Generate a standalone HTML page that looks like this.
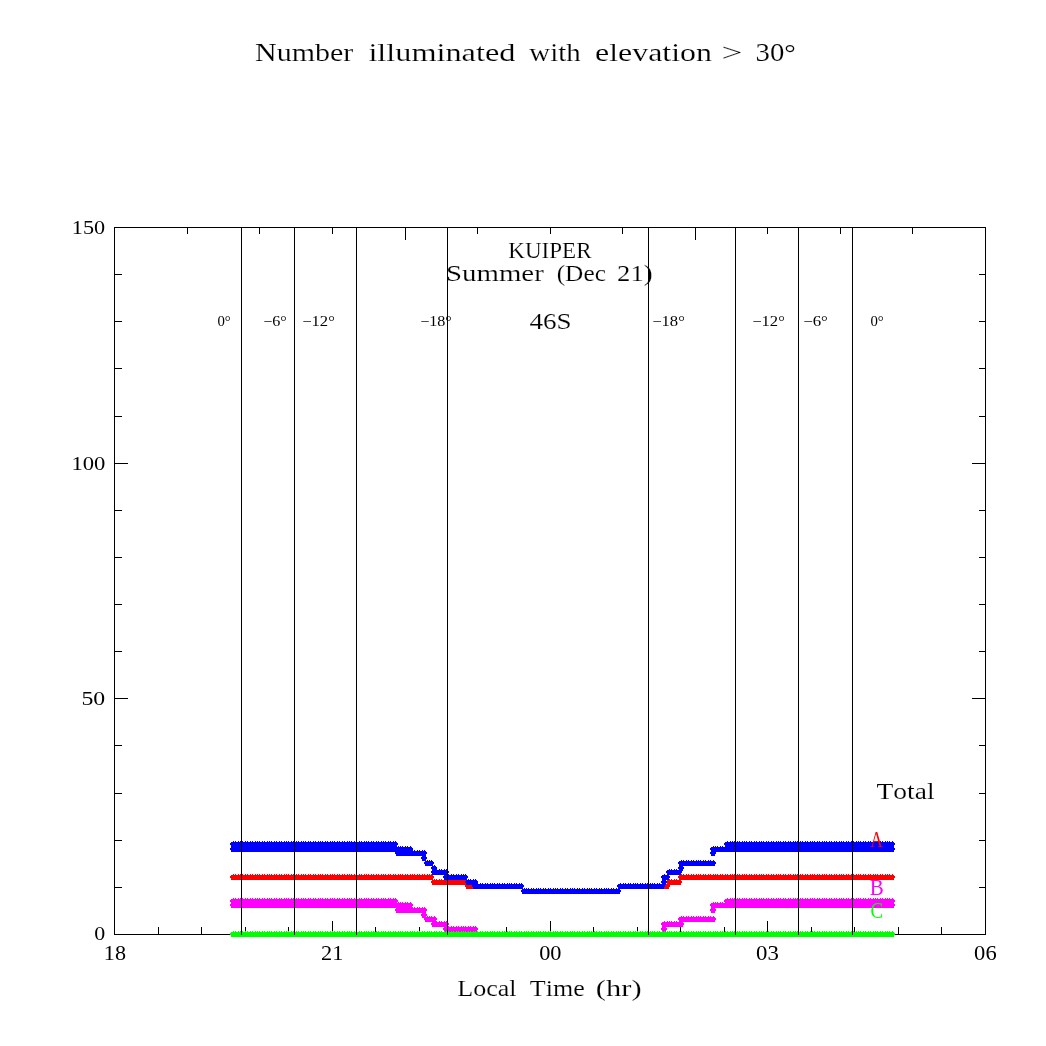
<!DOCTYPE html>
<html><head><meta charset="utf-8"><title>Number illuminated with elevation &gt; 30°</title>
<style>html,body{margin:0;padding:0;background:#fff;overflow:hidden}svg{display:block}</style>
</head><body>
<svg width="1046" height="1046" viewBox="0 0 1046 1046">
<rect width="1046" height="1046" fill="#fff"/>
<g fill="#000" shape-rendering="crispEdges"><rect x="114" y="227" width="872" height="1"/><rect x="114" y="934" width="872" height="1"/><rect x="114" y="227" width="1" height="708"/><rect x="985" y="227" width="1" height="708"/><rect x="158" y="927" width="1" height="7"/><rect x="201" y="927" width="1" height="7"/><rect x="245" y="927" width="1" height="7"/><rect x="288" y="927" width="1" height="7"/><rect x="332" y="921" width="1" height="13"/><rect x="375" y="927" width="1" height="7"/><rect x="419" y="927" width="1" height="7"/><rect x="462" y="927" width="1" height="7"/><rect x="506" y="927" width="1" height="7"/><rect x="550" y="921" width="1" height="13"/><rect x="593" y="927" width="1" height="7"/><rect x="637" y="927" width="1" height="7"/><rect x="680" y="927" width="1" height="7"/><rect x="724" y="927" width="1" height="7"/><rect x="767" y="921" width="1" height="13"/><rect x="811" y="927" width="1" height="7"/><rect x="854" y="927" width="1" height="7"/><rect x="898" y="927" width="1" height="7"/><rect x="941" y="927" width="1" height="7"/><rect x="187" y="228" width="1" height="6"/><rect x="259" y="228" width="1" height="6"/><rect x="332" y="228" width="1" height="6"/><rect x="405" y="228" width="1" height="12"/><rect x="477" y="228" width="1" height="6"/><rect x="550" y="228" width="1" height="6"/><rect x="622" y="228" width="1" height="6"/><rect x="695" y="228" width="1" height="12"/><rect x="767" y="228" width="1" height="6"/><rect x="840" y="228" width="1" height="6"/><rect x="912" y="228" width="1" height="6"/><rect x="115" y="887" width="7" height="1"/><rect x="979" y="887" width="6" height="1"/><rect x="115" y="840" width="7" height="1"/><rect x="979" y="840" width="6" height="1"/><rect x="115" y="793" width="7" height="1"/><rect x="979" y="793" width="6" height="1"/><rect x="115" y="745" width="7" height="1"/><rect x="979" y="745" width="6" height="1"/><rect x="115" y="698" width="13" height="1"/><rect x="972" y="698" width="13" height="1"/><rect x="115" y="651" width="7" height="1"/><rect x="979" y="651" width="6" height="1"/><rect x="115" y="604" width="7" height="1"/><rect x="979" y="604" width="6" height="1"/><rect x="115" y="557" width="7" height="1"/><rect x="979" y="557" width="6" height="1"/><rect x="115" y="510" width="7" height="1"/><rect x="979" y="510" width="6" height="1"/><rect x="115" y="463" width="13" height="1"/><rect x="972" y="463" width="13" height="1"/><rect x="115" y="416" width="7" height="1"/><rect x="979" y="416" width="6" height="1"/><rect x="115" y="368" width="7" height="1"/><rect x="979" y="368" width="6" height="1"/><rect x="115" y="321" width="7" height="1"/><rect x="979" y="321" width="6" height="1"/><rect x="115" y="274" width="7" height="1"/><rect x="979" y="274" width="6" height="1"/></g>
<g shape-rendering="crispEdges"><path fill="#f00" d="M233 874h1v1h-1zM235 874h1v1h-1zM238 874h1v1h-1zM240 874h1v1h-1zM242 874h1v1h-1zM245 874h1v1h-1zM247 874h1v1h-1zM250 874h1v1h-1zM252 874h1v1h-1zM255 874h1v1h-1zM257 874h1v1h-1zM259 874h1v1h-1zM262 874h1v1h-1zM264 874h1v1h-1zM267 874h1v1h-1zM269 874h1v1h-1zM271 874h1v1h-1zM274 874h1v1h-1zM276 874h1v1h-1zM279 874h1v1h-1zM281 874h1v1h-1zM284 874h1v1h-1zM286 874h1v1h-1zM288 874h1v1h-1zM291 874h1v1h-1zM293 874h1v1h-1zM296 874h1v1h-1zM298 874h1v1h-1zM301 874h1v1h-1zM303 874h1v1h-1zM305 874h1v1h-1zM308 874h1v1h-1zM310 874h1v1h-1zM313 874h1v1h-1zM315 874h1v1h-1zM318 874h1v1h-1zM320 874h1v1h-1zM322 874h1v1h-1zM325 874h1v1h-1zM327 874h1v1h-1zM330 874h1v1h-1zM332 874h1v1h-1zM334 874h1v1h-1zM337 874h1v1h-1zM339 874h1v1h-1zM342 874h1v1h-1zM344 874h1v1h-1zM347 874h1v1h-1zM349 874h1v1h-1zM351 874h1v1h-1zM354 874h1v1h-1zM356 874h1v1h-1zM359 874h1v1h-1zM361 874h1v1h-1zM364 874h1v1h-1zM366 874h1v1h-1zM368 874h1v1h-1zM371 874h1v1h-1zM373 874h1v1h-1zM376 874h1v1h-1zM378 874h1v1h-1zM381 874h1v1h-1zM383 874h1v1h-1zM385 874h1v1h-1zM388 874h1v1h-1zM390 874h1v1h-1zM393 874h1v1h-1zM395 874h1v1h-1zM398 874h1v1h-1zM400 874h1v1h-1zM402 874h1v1h-1zM405 874h1v1h-1zM407 874h1v1h-1zM410 874h1v1h-1zM412 874h1v1h-1zM414 874h1v1h-1zM417 874h1v1h-1zM419 874h1v1h-1zM422 874h1v1h-1zM424 874h1v1h-1zM427 874h1v1h-1zM429 874h1v1h-1zM431 874h1v1h-1zM681 874h1v1h-1zM683 874h1v1h-1zM686 874h1v1h-1zM688 874h1v1h-1zM691 874h1v1h-1zM693 874h1v1h-1zM696 874h1v1h-1zM698 874h1v1h-1zM700 874h1v1h-1zM703 874h1v1h-1zM705 874h1v1h-1zM708 874h1v1h-1zM710 874h1v1h-1zM713 874h1v1h-1zM715 874h1v1h-1zM717 874h1v1h-1zM720 874h1v1h-1zM722 874h1v1h-1zM725 874h1v1h-1zM727 874h1v1h-1zM730 874h1v1h-1zM732 874h1v1h-1zM734 874h1v1h-1zM737 874h1v1h-1zM739 874h1v1h-1zM742 874h1v1h-1zM744 874h1v1h-1zM746 874h1v1h-1zM749 874h1v1h-1zM751 874h1v1h-1zM754 874h1v1h-1zM756 874h1v1h-1zM759 874h1v1h-1zM761 874h1v1h-1zM763 874h1v1h-1zM766 874h1v1h-1zM768 874h1v1h-1zM771 874h1v1h-1zM773 874h1v1h-1zM776 874h1v1h-1zM778 874h1v1h-1zM780 874h1v1h-1zM783 874h1v1h-1zM785 874h1v1h-1zM788 874h1v1h-1zM790 874h1v1h-1zM793 874h1v1h-1zM795 874h1v1h-1zM797 874h1v1h-1zM800 874h1v1h-1zM802 874h1v1h-1zM805 874h1v1h-1zM807 874h1v1h-1zM810 874h1v1h-1zM812 874h1v1h-1zM814 874h1v1h-1zM817 874h1v1h-1zM819 874h1v1h-1zM822 874h1v1h-1zM824 874h1v1h-1zM826 874h1v1h-1zM829 874h1v1h-1zM831 874h1v1h-1zM834 874h1v1h-1zM836 874h1v1h-1zM839 874h1v1h-1zM841 874h1v1h-1zM843 874h1v1h-1zM846 874h1v1h-1zM848 874h1v1h-1zM851 874h1v1h-1zM853 874h1v1h-1zM856 874h1v1h-1zM858 874h1v1h-1zM860 874h1v1h-1zM863 874h1v1h-1zM865 874h1v1h-1zM868 874h1v1h-1zM870 874h1v1h-1zM873 874h1v1h-1zM875 874h1v1h-1zM877 874h1v1h-1zM880 874h1v1h-1zM882 874h1v1h-1zM885 874h1v1h-1zM887 874h1v1h-1zM889 874h1v1h-1zM892 874h1v1h-1zM231 875h202v1h-202zM679 875h215v1h-215zM230 876h204v1h-204zM678 876h217v1h-217zM230 877h204v1h-204zM678 877h217v1h-217zM231 878h202v1h-202zM679 878h215v1h-215zM231 879h202v1h-202zM434 879h1v1h-1zM436 879h1v1h-1zM439 879h1v1h-1zM441 879h1v1h-1zM669 879h1v1h-1zM671 879h1v1h-1zM674 879h1v1h-1zM676 879h1v1h-1zM679 879h215v1h-215zM432 880h34v1h-34zM667 880h14v1h-14zM431 881h34v1h-34zM667 881h15v1h-15zM431 882h34v1h-34zM667 882h15v1h-15zM432 883h34v1h-34zM667 883h14v1h-14zM432 884h34v1h-34zM666 884h15v1h-15zM465 885h7v1h-7zM665 885h5v1h-5zM465 886h7v1h-7zM665 886h5v1h-5zM466 887h7v1h-7zM664 887h5v1h-5zM466 888h7v1h-7zM664 888h5v1h-5z"/>
<path fill="#f0f" d="M233 898h1v1h-1zM235 898h1v1h-1zM238 898h1v1h-1zM240 898h1v1h-1zM242 898h1v1h-1zM245 898h1v1h-1zM247 898h1v1h-1zM250 898h1v1h-1zM252 898h1v1h-1zM255 898h1v1h-1zM257 898h1v1h-1zM259 898h1v1h-1zM262 898h1v1h-1zM264 898h1v1h-1zM267 898h1v1h-1zM269 898h1v1h-1zM271 898h1v1h-1zM274 898h1v1h-1zM276 898h1v1h-1zM279 898h1v1h-1zM281 898h1v1h-1zM284 898h1v1h-1zM286 898h1v1h-1zM288 898h1v1h-1zM291 898h1v1h-1zM293 898h1v1h-1zM296 898h1v1h-1zM298 898h1v1h-1zM301 898h1v1h-1zM303 898h1v1h-1zM305 898h1v1h-1zM308 898h1v1h-1zM310 898h1v1h-1zM313 898h1v1h-1zM315 898h1v1h-1zM318 898h1v1h-1zM320 898h1v1h-1zM322 898h1v1h-1zM325 898h1v1h-1zM327 898h1v1h-1zM330 898h1v1h-1zM332 898h1v1h-1zM334 898h1v1h-1zM337 898h1v1h-1zM339 898h1v1h-1zM342 898h1v1h-1zM344 898h1v1h-1zM347 898h1v1h-1zM349 898h1v1h-1zM351 898h1v1h-1zM354 898h1v1h-1zM356 898h1v1h-1zM359 898h1v1h-1zM361 898h1v1h-1zM364 898h1v1h-1zM366 898h1v1h-1zM368 898h1v1h-1zM371 898h1v1h-1zM373 898h1v1h-1zM376 898h1v1h-1zM378 898h1v1h-1zM381 898h1v1h-1zM383 898h1v1h-1zM385 898h1v1h-1zM388 898h1v1h-1zM390 898h1v1h-1zM393 898h1v1h-1zM395 898h1v1h-1zM727 898h1v1h-1zM730 898h1v1h-1zM732 898h1v1h-1zM734 898h1v1h-1zM737 898h1v1h-1zM739 898h1v1h-1zM742 898h1v1h-1zM744 898h1v1h-1zM746 898h1v1h-1zM749 898h1v1h-1zM751 898h1v1h-1zM754 898h1v1h-1zM756 898h1v1h-1zM759 898h1v1h-1zM761 898h1v1h-1zM763 898h1v1h-1zM766 898h1v1h-1zM768 898h1v1h-1zM771 898h1v1h-1zM773 898h1v1h-1zM776 898h1v1h-1zM778 898h1v1h-1zM780 898h1v1h-1zM783 898h1v1h-1zM785 898h1v1h-1zM788 898h1v1h-1zM790 898h1v1h-1zM793 898h1v1h-1zM795 898h1v1h-1zM797 898h1v1h-1zM800 898h1v1h-1zM802 898h1v1h-1zM805 898h1v1h-1zM807 898h1v1h-1zM810 898h1v1h-1zM812 898h1v1h-1zM814 898h1v1h-1zM817 898h1v1h-1zM819 898h1v1h-1zM822 898h1v1h-1zM824 898h1v1h-1zM826 898h1v1h-1zM829 898h1v1h-1zM831 898h1v1h-1zM834 898h1v1h-1zM836 898h1v1h-1zM839 898h1v1h-1zM841 898h1v1h-1zM843 898h1v1h-1zM846 898h1v1h-1zM848 898h1v1h-1zM851 898h1v1h-1zM853 898h1v1h-1zM856 898h1v1h-1zM858 898h1v1h-1zM860 898h1v1h-1zM863 898h1v1h-1zM865 898h1v1h-1zM868 898h1v1h-1zM870 898h1v1h-1zM873 898h1v1h-1zM875 898h1v1h-1zM877 898h1v1h-1zM880 898h1v1h-1zM882 898h1v1h-1zM885 898h1v1h-1zM887 898h1v1h-1zM889 898h1v1h-1zM892 898h1v1h-1zM231 899h166v1h-166zM725 899h169v1h-169zM230 900h168v1h-168zM724 900h171v1h-171zM230 901h168v1h-168zM724 901h171v1h-171zM231 902h166v1h-166zM398 902h1v1h-1zM400 902h1v1h-1zM402 902h1v1h-1zM405 902h1v1h-1zM407 902h1v1h-1zM410 902h1v1h-1zM713 902h1v1h-1zM715 902h1v1h-1zM717 902h1v1h-1zM720 902h1v1h-1zM722 902h1v1h-1zM725 902h169v1h-169zM231 903h181v1h-181zM711 903h183v1h-183zM230 904h183v1h-183zM710 904h185v1h-185zM230 905h183v1h-183zM710 905h185v1h-185zM231 906h181v1h-181zM711 906h183v1h-183zM231 907h182v1h-182zM414 907h1v1h-1zM417 907h1v1h-1zM419 907h1v1h-1zM422 907h1v1h-1zM424 907h1v1h-1zM711 907h183v1h-183zM396 908h30v1h-30zM711 908h4v1h-4zM395 909h32v1h-32zM710 909h6v1h-6zM395 910h32v1h-32zM710 910h6v1h-6zM396 911h30v1h-30zM711 911h4v1h-4zM396 912h30v1h-30zM711 912h4v1h-4zM422 913h4v1h-4zM421 914h6v1h-6zM421 915h6v1h-6zM422 916h4v1h-4zM427 916h1v1h-1zM429 916h1v1h-1zM431 916h1v1h-1zM434 916h1v1h-1zM681 916h1v1h-1zM683 916h1v1h-1zM686 916h1v1h-1zM688 916h1v1h-1zM691 916h1v1h-1zM693 916h1v1h-1zM696 916h1v1h-1zM698 916h1v1h-1zM700 916h1v1h-1zM703 916h1v1h-1zM705 916h1v1h-1zM708 916h1v1h-1zM710 916h1v1h-1zM713 916h1v1h-1zM422 917h14v1h-14zM679 917h36v1h-36zM424 918h13v1h-13zM678 918h38v1h-38zM424 919h13v1h-13zM678 919h38v1h-38zM425 920h11v1h-11zM679 920h36v1h-36zM425 921h12v1h-12zM439 921h1v1h-1zM441 921h1v1h-1zM444 921h1v1h-1zM446 921h1v1h-1zM664 921h1v1h-1zM667 921h1v1h-1zM669 921h1v1h-1zM671 921h1v1h-1zM674 921h1v1h-1zM676 921h1v1h-1zM679 921h36v1h-36zM432 922h16v1h-16zM662 922h21v1h-21zM431 923h18v1h-18zM661 923h23v1h-23zM431 924h18v1h-18zM661 924h23v1h-23zM432 925h16v1h-16zM662 925h21v1h-21zM432 926h17v1h-17zM451 926h1v1h-1zM453 926h1v1h-1zM456 926h1v1h-1zM458 926h1v1h-1zM461 926h1v1h-1zM463 926h1v1h-1zM465 926h1v1h-1zM468 926h1v1h-1zM470 926h1v1h-1zM473 926h1v1h-1zM475 926h1v1h-1zM662 926h21v1h-21zM444 927h33v1h-33zM662 927h4v1h-4zM443 928h35v1h-35zM661 928h6v1h-6zM443 929h35v1h-35zM661 929h6v1h-6zM444 930h33v1h-33zM662 930h4v1h-4zM445 931h1v1h-1zM447 931h1v1h-1zM449 931h2v1h-2zM452 931h1v1h-1zM454 931h2v1h-2zM457 931h1v1h-1zM459 931h2v1h-2zM462 931h1v1h-1zM464 931h1v1h-1zM466 931h2v1h-2zM469 931h1v1h-1zM471 931h2v1h-2zM474 931h1v1h-1zM476 931h1v1h-1zM663 931h1v1h-1zM665 931h1v1h-1z"/>
<path fill="#00f" d="M233 841h1v1h-1zM235 841h1v1h-1zM238 841h1v1h-1zM240 841h1v1h-1zM242 841h1v1h-1zM245 841h1v1h-1zM247 841h1v1h-1zM250 841h1v1h-1zM252 841h1v1h-1zM255 841h1v1h-1zM257 841h1v1h-1zM259 841h1v1h-1zM262 841h1v1h-1zM264 841h1v1h-1zM267 841h1v1h-1zM269 841h1v1h-1zM271 841h1v1h-1zM274 841h1v1h-1zM276 841h1v1h-1zM279 841h1v1h-1zM281 841h1v1h-1zM284 841h1v1h-1zM286 841h1v1h-1zM288 841h1v1h-1zM291 841h1v1h-1zM293 841h1v1h-1zM296 841h1v1h-1zM298 841h1v1h-1zM301 841h1v1h-1zM303 841h1v1h-1zM305 841h1v1h-1zM308 841h1v1h-1zM310 841h1v1h-1zM313 841h1v1h-1zM315 841h1v1h-1zM318 841h1v1h-1zM320 841h1v1h-1zM322 841h1v1h-1zM325 841h1v1h-1zM327 841h1v1h-1zM330 841h1v1h-1zM332 841h1v1h-1zM334 841h1v1h-1zM337 841h1v1h-1zM339 841h1v1h-1zM342 841h1v1h-1zM344 841h1v1h-1zM347 841h1v1h-1zM349 841h1v1h-1zM351 841h1v1h-1zM354 841h1v1h-1zM356 841h1v1h-1zM359 841h1v1h-1zM361 841h1v1h-1zM364 841h1v1h-1zM366 841h1v1h-1zM368 841h1v1h-1zM371 841h1v1h-1zM373 841h1v1h-1zM376 841h1v1h-1zM378 841h1v1h-1zM381 841h1v1h-1zM383 841h1v1h-1zM385 841h1v1h-1zM388 841h1v1h-1zM390 841h1v1h-1zM393 841h1v1h-1zM395 841h1v1h-1zM727 841h1v1h-1zM730 841h1v1h-1zM732 841h1v1h-1zM734 841h1v1h-1zM737 841h1v1h-1zM739 841h1v1h-1zM742 841h1v1h-1zM744 841h1v1h-1zM746 841h1v1h-1zM749 841h1v1h-1zM751 841h1v1h-1zM754 841h1v1h-1zM756 841h1v1h-1zM759 841h1v1h-1zM761 841h1v1h-1zM763 841h1v1h-1zM766 841h1v1h-1zM768 841h1v1h-1zM771 841h1v1h-1zM773 841h1v1h-1zM776 841h1v1h-1zM778 841h1v1h-1zM780 841h1v1h-1zM783 841h1v1h-1zM785 841h1v1h-1zM788 841h1v1h-1zM790 841h1v1h-1zM793 841h1v1h-1zM795 841h1v1h-1zM797 841h1v1h-1zM800 841h1v1h-1zM802 841h1v1h-1zM805 841h1v1h-1zM807 841h1v1h-1zM810 841h1v1h-1zM812 841h1v1h-1zM814 841h1v1h-1zM817 841h1v1h-1zM819 841h1v1h-1zM822 841h1v1h-1zM824 841h1v1h-1zM826 841h1v1h-1zM829 841h1v1h-1zM831 841h1v1h-1zM834 841h1v1h-1zM836 841h1v1h-1zM839 841h1v1h-1zM841 841h1v1h-1zM843 841h1v1h-1zM846 841h1v1h-1zM848 841h1v1h-1zM851 841h1v1h-1zM853 841h1v1h-1zM856 841h1v1h-1zM858 841h1v1h-1zM860 841h1v1h-1zM863 841h1v1h-1zM865 841h1v1h-1zM868 841h1v1h-1zM870 841h1v1h-1zM873 841h1v1h-1zM875 841h1v1h-1zM877 841h1v1h-1zM880 841h1v1h-1zM882 841h1v1h-1zM885 841h1v1h-1zM887 841h1v1h-1zM889 841h1v1h-1zM892 841h1v1h-1zM231 842h166v1h-166zM725 842h169v1h-169zM230 843h168v1h-168zM724 843h171v1h-171zM230 844h168v1h-168zM724 844h171v1h-171zM231 845h166v1h-166zM725 845h169v1h-169zM231 846h166v1h-166zM398 846h1v1h-1zM400 846h1v1h-1zM402 846h1v1h-1zM405 846h1v1h-1zM407 846h1v1h-1zM410 846h1v1h-1zM713 846h1v1h-1zM715 846h1v1h-1zM717 846h1v1h-1zM720 846h1v1h-1zM722 846h1v1h-1zM725 846h169v1h-169zM231 847h181v1h-181zM711 847h183v1h-183zM230 848h183v1h-183zM710 848h185v1h-185zM230 849h183v1h-183zM710 849h185v1h-185zM231 850h182v1h-182zM414 850h1v1h-1zM417 850h1v1h-1zM419 850h1v1h-1zM422 850h1v1h-1zM424 850h1v1h-1zM711 850h183v1h-183zM231 851h195v1h-195zM711 851h183v1h-183zM395 852h32v1h-32zM710 852h6v1h-6zM395 853h32v1h-32zM710 853h6v1h-6zM396 854h30v1h-30zM711 854h4v1h-4zM396 855h30v1h-30zM711 855h4v1h-4zM422 856h4v1h-4zM421 857h6v1h-6zM421 858h6v1h-6zM422 859h4v1h-4zM422 860h4v1h-4zM427 860h1v1h-1zM429 860h1v1h-1zM431 860h1v1h-1zM681 860h1v1h-1zM683 860h1v1h-1zM686 860h1v1h-1zM688 860h1v1h-1zM691 860h1v1h-1zM693 860h1v1h-1zM696 860h1v1h-1zM698 860h1v1h-1zM700 860h1v1h-1zM703 860h1v1h-1zM705 860h1v1h-1zM708 860h1v1h-1zM710 860h1v1h-1zM713 860h1v1h-1zM425 861h8v1h-8zM679 861h36v1h-36zM424 862h10v1h-10zM678 862h38v1h-38zM424 863h10v1h-10zM678 863h38v1h-38zM425 864h8v1h-8zM679 864h36v1h-36zM425 865h8v1h-8zM434 865h1v1h-1zM679 865h36v1h-36zM432 866h4v1h-4zM679 866h4v1h-4zM431 867h6v1h-6zM678 867h6v1h-6zM431 868h6v1h-6zM678 868h6v1h-6zM432 869h5v1h-5zM439 869h1v1h-1zM441 869h1v1h-1zM444 869h1v1h-1zM446 869h1v1h-1zM669 869h1v1h-1zM671 869h1v1h-1zM674 869h1v1h-1zM676 869h1v1h-1zM679 869h4v1h-4zM432 870h16v1h-16zM667 870h16v1h-16zM431 871h18v1h-18zM666 871h16v1h-16zM431 872h18v1h-18zM666 872h16v1h-16zM432 873h16v1h-16zM667 873h14v1h-14zM432 874h17v1h-17zM451 874h1v1h-1zM453 874h1v1h-1zM456 874h1v1h-1zM458 874h1v1h-1zM461 874h1v1h-1zM463 874h1v1h-1zM465 874h1v1h-1zM664 874h1v1h-1zM667 874h14v1h-14zM444 875h23v1h-23zM662 875h7v1h-7zM443 876h25v1h-25zM661 876h9v1h-9zM443 877h25v1h-25zM661 877h9v1h-9zM444 878h23v1h-23zM662 878h7v1h-7zM444 879h23v1h-23zM468 879h1v1h-1zM470 879h1v1h-1zM473 879h1v1h-1zM475 879h1v1h-1zM662 879h7v1h-7zM466 880h11v1h-11zM662 880h4v1h-4zM465 881h13v1h-13zM661 881h6v1h-6zM465 882h13v1h-13zM661 882h6v1h-6zM466 883h12v1h-12zM480 883h1v1h-1zM482 883h1v1h-1zM485 883h1v1h-1zM487 883h1v1h-1zM490 883h1v1h-1zM492 883h1v1h-1zM494 883h1v1h-1zM497 883h1v1h-1zM499 883h1v1h-1zM502 883h1v1h-1zM504 883h1v1h-1zM507 883h1v1h-1zM509 883h1v1h-1zM511 883h1v1h-1zM514 883h1v1h-1zM516 883h1v1h-1zM519 883h1v1h-1zM521 883h1v1h-1zM620 883h1v1h-1zM623 883h1v1h-1zM625 883h1v1h-1zM628 883h1v1h-1zM630 883h1v1h-1zM633 883h1v1h-1zM635 883h1v1h-1zM637 883h1v1h-1zM640 883h1v1h-1zM642 883h1v1h-1zM645 883h1v1h-1zM647 883h1v1h-1zM650 883h1v1h-1zM652 883h1v1h-1zM654 883h1v1h-1zM657 883h1v1h-1zM659 883h1v1h-1zM662 883h4v1h-4zM466 884h57v1h-57zM618 884h48v1h-48zM472 885h52v1h-52zM617 885h48v1h-48zM472 886h52v1h-52zM617 886h48v1h-48zM473 887h50v1h-50zM618 887h46v1h-46zM473 888h50v1h-50zM524 888h1v1h-1zM526 888h1v1h-1zM528 888h1v1h-1zM531 888h1v1h-1zM533 888h1v1h-1zM536 888h1v1h-1zM538 888h1v1h-1zM540 888h1v1h-1zM543 888h1v1h-1zM545 888h1v1h-1zM548 888h1v1h-1zM550 888h1v1h-1zM553 888h1v1h-1zM555 888h1v1h-1zM557 888h1v1h-1zM560 888h1v1h-1zM562 888h1v1h-1zM565 888h1v1h-1zM567 888h1v1h-1zM570 888h1v1h-1zM572 888h1v1h-1zM574 888h1v1h-1zM577 888h1v1h-1zM579 888h1v1h-1zM582 888h1v1h-1zM584 888h1v1h-1zM587 888h1v1h-1zM589 888h1v1h-1zM591 888h1v1h-1zM594 888h1v1h-1zM596 888h1v1h-1zM599 888h1v1h-1zM601 888h1v1h-1zM604 888h1v1h-1zM606 888h1v1h-1zM608 888h1v1h-1zM611 888h1v1h-1zM613 888h1v1h-1zM616 888h1v1h-1zM618 888h46v1h-46zM522 889h98v1h-98zM521 890h100v1h-100zM521 891h100v1h-100zM522 892h98v1h-98zM522 893h98v1h-98z"/>
<path fill="#0f0" d="M233 931h1v1h-1zM235 931h1v1h-1zM238 931h1v1h-1zM240 931h1v1h-1zM242 931h1v1h-1zM245 931h1v1h-1zM247 931h1v1h-1zM250 931h1v1h-1zM252 931h1v1h-1zM255 931h1v1h-1zM257 931h1v1h-1zM259 931h1v1h-1zM262 931h1v1h-1zM264 931h1v1h-1zM267 931h1v1h-1zM269 931h1v1h-1zM271 931h1v1h-1zM274 931h1v1h-1zM276 931h1v1h-1zM279 931h1v1h-1zM281 931h1v1h-1zM284 931h1v1h-1zM286 931h1v1h-1zM288 931h1v1h-1zM291 931h1v1h-1zM293 931h1v1h-1zM296 931h1v1h-1zM298 931h1v1h-1zM301 931h1v1h-1zM303 931h1v1h-1zM305 931h1v1h-1zM308 931h1v1h-1zM310 931h1v1h-1zM313 931h1v1h-1zM315 931h1v1h-1zM318 931h1v1h-1zM320 931h1v1h-1zM322 931h1v1h-1zM325 931h1v1h-1zM327 931h1v1h-1zM330 931h1v1h-1zM332 931h1v1h-1zM334 931h1v1h-1zM337 931h1v1h-1zM339 931h1v1h-1zM342 931h1v1h-1zM344 931h1v1h-1zM347 931h1v1h-1zM349 931h1v1h-1zM351 931h1v1h-1zM354 931h1v1h-1zM356 931h1v1h-1zM359 931h1v1h-1zM361 931h1v1h-1zM364 931h1v1h-1zM366 931h1v1h-1zM368 931h1v1h-1zM371 931h1v1h-1zM373 931h1v1h-1zM376 931h1v1h-1zM378 931h1v1h-1zM381 931h1v1h-1zM383 931h1v1h-1zM385 931h1v1h-1zM388 931h1v1h-1zM390 931h1v1h-1zM393 931h1v1h-1zM395 931h1v1h-1zM398 931h1v1h-1zM400 931h1v1h-1zM402 931h1v1h-1zM405 931h1v1h-1zM407 931h1v1h-1zM410 931h1v1h-1zM412 931h1v1h-1zM414 931h1v1h-1zM417 931h1v1h-1zM419 931h1v1h-1zM422 931h1v1h-1zM424 931h1v1h-1zM427 931h1v1h-1zM429 931h1v1h-1zM431 931h1v1h-1zM434 931h1v1h-1zM436 931h1v1h-1zM439 931h1v1h-1zM441 931h1v1h-1zM444 931h1v1h-1zM446 931h1v1h-1zM448 931h1v1h-1zM451 931h1v1h-1zM453 931h1v1h-1zM456 931h1v1h-1zM458 931h1v1h-1zM461 931h1v1h-1zM463 931h1v1h-1zM465 931h1v1h-1zM468 931h1v1h-1zM470 931h1v1h-1zM473 931h1v1h-1zM475 931h1v1h-1zM477 931h1v1h-1zM480 931h1v1h-1zM482 931h1v1h-1zM485 931h1v1h-1zM487 931h1v1h-1zM490 931h1v1h-1zM492 931h1v1h-1zM494 931h1v1h-1zM497 931h1v1h-1zM499 931h1v1h-1zM502 931h1v1h-1zM504 931h1v1h-1zM507 931h1v1h-1zM509 931h1v1h-1zM511 931h1v1h-1zM514 931h1v1h-1zM516 931h1v1h-1zM519 931h1v1h-1zM521 931h1v1h-1zM524 931h1v1h-1zM526 931h1v1h-1zM528 931h1v1h-1zM531 931h1v1h-1zM533 931h1v1h-1zM536 931h1v1h-1zM538 931h1v1h-1zM540 931h1v1h-1zM543 931h1v1h-1zM545 931h1v1h-1zM548 931h1v1h-1zM550 931h1v1h-1zM553 931h1v1h-1zM555 931h1v1h-1zM557 931h1v1h-1zM560 931h1v1h-1zM562 931h1v1h-1zM565 931h1v1h-1zM567 931h1v1h-1zM570 931h1v1h-1zM572 931h1v1h-1zM574 931h1v1h-1zM577 931h1v1h-1zM579 931h1v1h-1zM582 931h1v1h-1zM584 931h1v1h-1zM587 931h1v1h-1zM589 931h1v1h-1zM591 931h1v1h-1zM594 931h1v1h-1zM596 931h1v1h-1zM599 931h1v1h-1zM601 931h1v1h-1zM604 931h1v1h-1zM606 931h1v1h-1zM608 931h1v1h-1zM611 931h1v1h-1zM613 931h1v1h-1zM616 931h1v1h-1zM618 931h1v1h-1zM620 931h1v1h-1zM623 931h1v1h-1zM625 931h1v1h-1zM628 931h1v1h-1zM630 931h1v1h-1zM633 931h1v1h-1zM635 931h1v1h-1zM637 931h1v1h-1zM640 931h1v1h-1zM642 931h1v1h-1zM645 931h1v1h-1zM647 931h1v1h-1zM650 931h1v1h-1zM652 931h1v1h-1zM654 931h1v1h-1zM657 931h1v1h-1zM659 931h1v1h-1zM662 931h1v1h-1zM664 931h1v1h-1zM667 931h1v1h-1zM669 931h1v1h-1zM671 931h1v1h-1zM674 931h1v1h-1zM676 931h1v1h-1zM679 931h1v1h-1zM681 931h1v1h-1zM683 931h1v1h-1zM686 931h1v1h-1zM688 931h1v1h-1zM691 931h1v1h-1zM693 931h1v1h-1zM696 931h1v1h-1zM698 931h1v1h-1zM700 931h1v1h-1zM703 931h1v1h-1zM705 931h1v1h-1zM708 931h1v1h-1zM710 931h1v1h-1zM713 931h1v1h-1zM715 931h1v1h-1zM717 931h1v1h-1zM720 931h1v1h-1zM722 931h1v1h-1zM725 931h1v1h-1zM727 931h1v1h-1zM730 931h1v1h-1zM732 931h1v1h-1zM734 931h1v1h-1zM737 931h1v1h-1zM739 931h1v1h-1zM742 931h1v1h-1zM744 931h1v1h-1zM746 931h1v1h-1zM749 931h1v1h-1zM751 931h1v1h-1zM754 931h1v1h-1zM756 931h1v1h-1zM759 931h1v1h-1zM761 931h1v1h-1zM763 931h1v1h-1zM766 931h1v1h-1zM768 931h1v1h-1zM771 931h1v1h-1zM773 931h1v1h-1zM776 931h1v1h-1zM778 931h1v1h-1zM780 931h1v1h-1zM783 931h1v1h-1zM785 931h1v1h-1zM788 931h1v1h-1zM790 931h1v1h-1zM793 931h1v1h-1zM795 931h1v1h-1zM797 931h1v1h-1zM800 931h1v1h-1zM802 931h1v1h-1zM805 931h1v1h-1zM807 931h1v1h-1zM810 931h1v1h-1zM812 931h1v1h-1zM814 931h1v1h-1zM817 931h1v1h-1zM819 931h1v1h-1zM822 931h1v1h-1zM824 931h1v1h-1zM826 931h1v1h-1zM829 931h1v1h-1zM831 931h1v1h-1zM834 931h1v1h-1zM836 931h1v1h-1zM839 931h1v1h-1zM841 931h1v1h-1zM843 931h1v1h-1zM846 931h1v1h-1zM848 931h1v1h-1zM851 931h1v1h-1zM853 931h1v1h-1zM856 931h1v1h-1zM858 931h1v1h-1zM860 931h1v1h-1zM863 931h1v1h-1zM865 931h1v1h-1zM868 931h1v1h-1zM870 931h1v1h-1zM873 931h1v1h-1zM875 931h1v1h-1zM877 931h1v1h-1zM880 931h1v1h-1zM882 931h1v1h-1zM885 931h1v1h-1zM887 931h1v1h-1zM889 931h1v1h-1zM892 931h1v1h-1zM231 932h663v1h-663zM230 933h665v1h-665zM230 934h665v1h-665zM231 935h663v1h-663zM231 936h663v1h-663z"/></g>
<g font-family="'Liberation Serif', serif" style="font-kerning:none"><text x="255.14" y="61" font-size="25.5" fill="#000" stroke="#fff" stroke-width="0.15" textLength="98.13" lengthAdjust="spacingAndGlyphs">Number</text><text x="368.42" y="61" font-size="25.5" fill="#000" stroke="#fff" stroke-width="0.15" textLength="146.97" lengthAdjust="spacingAndGlyphs">illuminated</text><text x="529.37" y="61" font-size="25.5" fill="#000" stroke="#fff" stroke-width="0.15" textLength="51.21" lengthAdjust="spacingAndGlyphs">with</text><text x="595.05" y="61" font-size="25.5" fill="#000" stroke="#fff" stroke-width="0.15" textLength="116.83" lengthAdjust="spacingAndGlyphs">elevation</text><text x="721.50" y="61" font-size="25.5" fill="#000" stroke="#fff" stroke-width="0.15" textLength="21.09" lengthAdjust="spacingAndGlyphs">&gt;</text><text x="755.52" y="61" font-size="25.5" fill="#000" stroke="#fff" stroke-width="0.15" textLength="40.28" lengthAdjust="spacingAndGlyphs">30°</text><text x="508.34" y="258" font-size="22.5" fill="#000" stroke="#fff" stroke-width="0.15" textLength="83.20" lengthAdjust="spacingAndGlyphs">KUIPER</text><text x="446.07" y="281" font-size="22.5" fill="#000" stroke="#fff" stroke-width="0.15" textLength="97.68" lengthAdjust="spacingAndGlyphs">Summer</text><text x="556.69" y="281" font-size="22.5" fill="#000" stroke="#fff" stroke-width="0.15" textLength="49.19" lengthAdjust="spacingAndGlyphs">(Dec</text><text x="617.13" y="281" font-size="22.5" fill="#000" stroke="#fff" stroke-width="0.15" textLength="35.44" lengthAdjust="spacingAndGlyphs">21)</text><text x="529.47" y="329" font-size="22.5" fill="#000" stroke="#fff" stroke-width="0.15" textLength="42.21" lengthAdjust="spacingAndGlyphs">46S</text><text x="217.44" y="326" font-size="14.5" fill="#000" textLength="13.28" lengthAdjust="spacingAndGlyphs">0°</text><text x="263.20" y="326" font-size="14.5" fill="#000" textLength="23.59" lengthAdjust="spacingAndGlyphs">−6°</text><text x="302.17" y="326" font-size="14.5" fill="#000" textLength="32.64" lengthAdjust="spacingAndGlyphs">−12°</text><text x="420.20" y="326" font-size="14.5" fill="#000" textLength="31.59" lengthAdjust="spacingAndGlyphs">−18°</text><text x="652.17" y="326" font-size="14.5" fill="#000" textLength="32.64" lengthAdjust="spacingAndGlyphs">−18°</text><text x="752.17" y="326" font-size="14.5" fill="#000" textLength="32.64" lengthAdjust="spacingAndGlyphs">−12°</text><text x="803.16" y="326" font-size="14.5" fill="#000" textLength="24.66" lengthAdjust="spacingAndGlyphs">−6°</text><text x="870.44" y="326" font-size="14.5" fill="#000" textLength="13.28" lengthAdjust="spacingAndGlyphs">0°</text><text x="71.85" y="233.5" font-size="19.5" fill="#000" textLength="33.30" lengthAdjust="spacingAndGlyphs">150</text><text x="71.41" y="469.5" font-size="19.5" fill="#000" textLength="33.95" lengthAdjust="spacingAndGlyphs">100</text><text x="81.42" y="704.5" font-size="19.5" fill="#000" textLength="23.79" lengthAdjust="spacingAndGlyphs">50</text><text x="94.16" y="940" font-size="19.5" fill="#000" textLength="10.97" lengthAdjust="spacingAndGlyphs">0</text><text x="103.86" y="959.5" font-size="20.5" fill="#000" textLength="22.08" lengthAdjust="spacingAndGlyphs">18</text><text x="321.02" y="959.5" font-size="20.5" fill="#000" textLength="22.32" lengthAdjust="spacingAndGlyphs">21</text><text x="539.15" y="959.5" font-size="20.5" fill="#000" textLength="22.30" lengthAdjust="spacingAndGlyphs">00</text><text x="756.13" y="959.5" font-size="20.5" fill="#000" textLength="22.76" lengthAdjust="spacingAndGlyphs">03</text><text x="974.14" y="959.5" font-size="20.5" fill="#000" textLength="22.53" lengthAdjust="spacingAndGlyphs">06</text><text x="457.25" y="996" font-size="24" fill="#000" stroke="#fff" stroke-width="0.15" textLength="59.27" lengthAdjust="spacingAndGlyphs">Local</text><text x="529.83" y="996" font-size="24" fill="#000" stroke="#fff" stroke-width="0.15" textLength="54.87" lengthAdjust="spacingAndGlyphs">Time</text><text x="595.86" y="996" font-size="24" fill="#000" stroke="#fff" stroke-width="0.15" textLength="45.68" lengthAdjust="spacingAndGlyphs">(hr)</text><text x="876.50" y="799" font-size="22.5" fill="#000" stroke="#fff" stroke-width="0.15" textLength="58.05" lengthAdjust="spacingAndGlyphs">Total</text><text x="870.13" y="847" font-size="23" fill="#f00" textLength="12.70" lengthAdjust="spacingAndGlyphs">A</text><text x="869.69" y="894.5" font-size="23" fill="#f0f" textLength="14.03" lengthAdjust="spacingAndGlyphs">B</text><text x="870.42" y="917.5" font-size="23" fill="#0f0" textLength="12.62" lengthAdjust="spacingAndGlyphs">C</text></g>
<g fill="#000" shape-rendering="crispEdges"><rect x="241" y="227" width="1" height="708"/><rect x="294" y="227" width="1" height="708"/><rect x="356" y="227" width="1" height="708"/><rect x="447" y="227" width="1" height="708"/><rect x="648" y="227" width="1" height="708"/><rect x="735" y="227" width="1" height="708"/><rect x="798" y="227" width="1" height="708"/><rect x="852" y="227" width="1" height="708"/></g>
</svg>
</body></html>
